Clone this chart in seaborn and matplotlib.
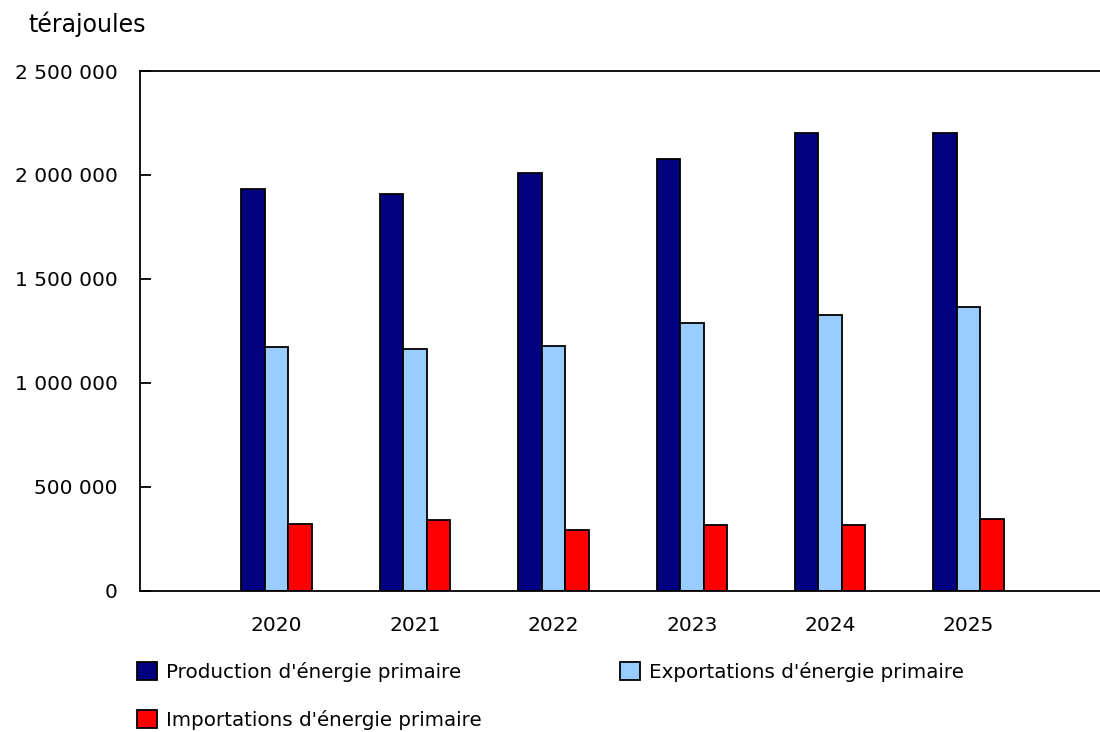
import numpy as np
import pandas as pd
import matplotlib
matplotlib.use("Agg")
import matplotlib.pyplot as plt
import seaborn as sns
from matplotlib.ticker import FuncFormatter, MultipleLocator
from matplotlib.patches import Patch

# Données (térajoules)
annees = ["2020", "2021", "2022", "2023", "2024", "2025"]
production = [1931000, 1910000, 2008000, 2077000, 2203000, 2203000]
exportations = [1170000, 1165000, 1175000, 1288000, 1328000, 1364000]
importations = [319000, 338000, 293000, 314000, 317000, 345000]

series = ["Production d'énergie primaire",
          "Exportations d'énergie primaire",
          "Importations d'énergie primaire"]
couleurs = ["#000080", "#99CCFF", "#FF0000"]

df = pd.DataFrame({
    "Année": annees * 3,
    "Série": np.repeat(series, len(annees)),
    "Valeur": production + exportations + importations,
})

sns.set_style("white")
plt.rcParams["font.family"] = ["DejaVu Sans"]
plt.rcParams["text.color"] = "black"

fig = plt.figure(figsize=(11, 7.32), dpi=100)
ax = fig.add_axes([0.127, 0.193, 0.873, 0.710])

sns.barplot(data=df, x="Année", y="Valeur", hue="Série", order=annees,
            hue_order=series, palette=couleurs, saturation=1, width=0.51,
            edgecolor="black", linewidth=1.3, ax=ax, legend=False)

ax.set_xlim(-0.99, 5.95)
ax.set_ylim(0, 2500000)
ax.yaxis.set_major_locator(MultipleLocator(500000))
ax.yaxis.set_major_formatter(FuncFormatter(lambda v, p: f"{int(v):,}".replace(",", " ")))
ax.set_xlabel("")
ax.set_ylabel("")

for s in ["left", "bottom", "top"]:
    ax.spines[s].set_visible(True)
    ax.spines[s].set_color("black")
    ax.spines[s].set_linewidth(1.3)
ax.spines["right"].set_visible(False)

ax.tick_params(axis="y", direction="in", length=8, width=1.3, pad=16,
               labelsize=14.5, left=True, colors="black")
ax.tick_params(axis="x", length=0, pad=18, labelsize=14.5, colors="black")

fig.text(28 / 1100, 1 - 24 / 732, "térajoules", fontsize=17,
         ha="left", va="center", color="black")

poignees = [Patch(facecolor=c, edgecolor="black", linewidth=1.3) for c in couleurs]
# ordre colonne par colonne pour obtenir Production / Exportations sur la 1re ligne
ordre = [0, 2, 1]
fig.legend([poignees[i] for i in ordre], [series[i] for i in ordre],
           loc="upper left", bbox_to_anchor=(0.1171, 1 - 654 / 732),
           ncol=2, frameon=False, fontsize=14.3, handlelength=1.0,
           handleheight=1.0, handletextpad=0.45, columnspacing=7.0,
           labelspacing=1.4, borderaxespad=0, labelcolor="black")

fig.savefig("out.png", dpi=100)
